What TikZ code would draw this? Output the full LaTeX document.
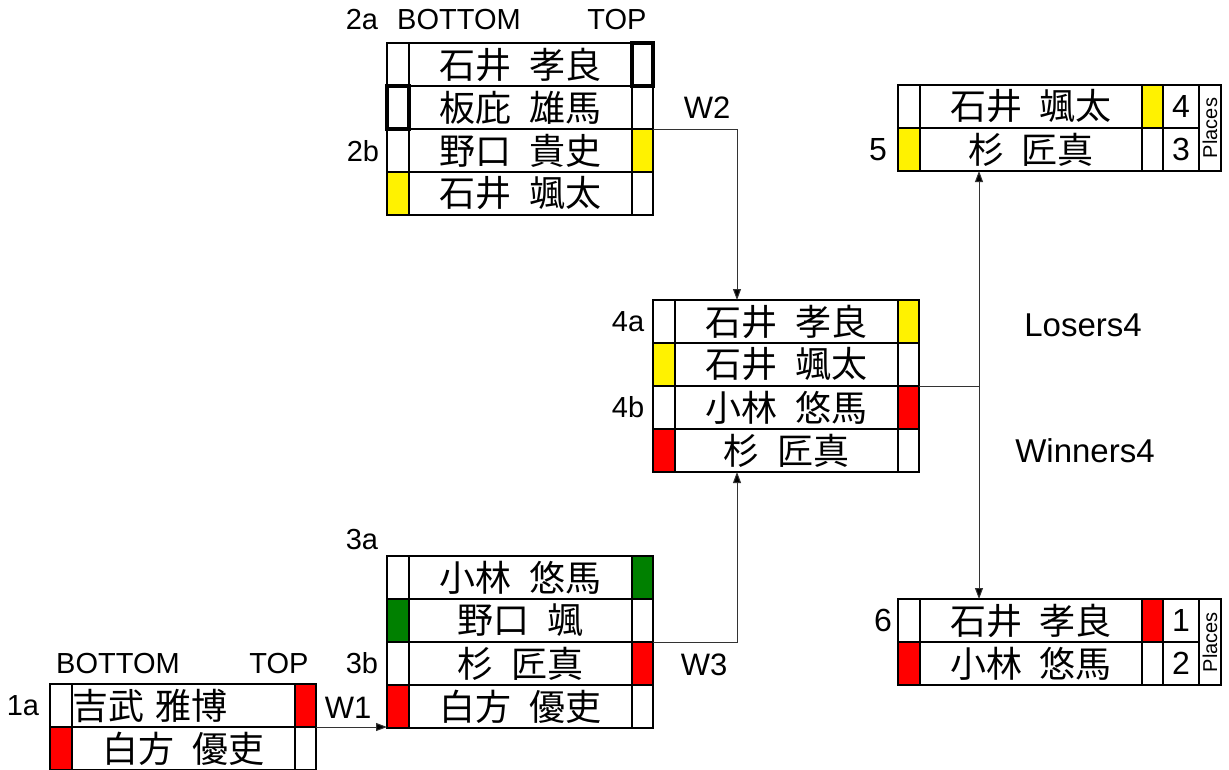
\documentclass[tikz,border=0pt]{standalone}
\usepackage{fontspec}
\setmainfont{Liberation Sans}
\newfontfamily\jpfont[WordSpace=2.2]{Noto Sans CJK JP}
\usetikzlibrary{positioning, arrows.meta}

\begin{document}
\begin{tikzpicture}[x=1pt, y=-1pt,
  cell/.style={draw, line width=1.8pt, inner sep=0pt, outer sep=0pt, minimum height=43pt, anchor=north west},
  side/.style={cell, minimum width=22pt},
  namecell/.style={cell, minimum width=223pt, font=\jpfont\fontsize{36}{36}\selectfont},
  flag/.style={cell, minimum width=21pt},
  numcell/.style={cell, minimum width=36pt, font=\fontsize{32}{32}\selectfont},
  tag/.style={inner sep=0pt, font=\fontsize{29}{29}\selectfont},
  big/.style={inner sep=0pt, font=\fontsize{33}{33}\selectfont},
  cw/.style={fill=white}, cy/.style={fill=yellow}, cr/.style={fill=red}, cg/.style={fill=green!50!black},
  conn/.style={line width=1pt, black!80},
  >={Triangle[length=11pt, width=8pt, fill=black]}
]
\useasboundingbox (0,0) rectangle (1229,769);
\clip (0,0) rectangle (1229,769);

% Match 2
\foreach \row/\who/\lc/\rc in {1/石井 孝良/cw/cw, 2/板庇 雄馬/cw/cw, 3/野口 貴史/cw/cy, 4/石井 颯太/cy/cw}{
  \node[side, \lc] (b2l\row) at (387, {43*\row}) {};
  \node[namecell, right=0pt of b2l\row] (b2n\row) {\who};
  \node[flag, \rc, right=0pt of b2n\row] (b2r\row) {};
}
\draw[line width=4pt] (b2r1.north west) rectangle (b2r1.south east);
\draw[line width=4pt] (b2l2.north west) rectangle (b2l2.south east);
\node[tag] (l2a) at (362,20) {2a};
\node[tag] (l2bot) at (459,20) {BOTTOM};
\node[tag] (l2top) at (617,20) {TOP};
\node[tag] (l2b) at (363,151) {2b};

% Match 4
\foreach \row/\who/\lc/\rc in {1/石井 孝良/cw/cy, 2/石井 颯太/cy/cw, 3/小林 悠馬/cw/cr, 4/杉 匠真/cr/cw}{
  \node[side, \lc] (b4l\row) at (653, {257+43*\row}) {};
  \node[namecell, right=0pt of b4l\row] (b4n\row) {\who};
  \node[flag, \rc, right=0pt of b4n\row] (b4r\row) {};
}
\node[tag] (l4a) at (628,322) {4a};
\node[tag] (l4b) at (628,407) {4b};

% Match 3
\foreach \row/\who/\lc/\rc in {1/小林 悠馬/cw/cg, 2/野口 颯/cg/cw, 3/杉 匠真/cw/cr, 4/白方 優吏/cr/cw}{
  \node[side, \lc] (b3l\row) at (387, {513+43*\row}) {};
  \node[namecell, right=0pt of b3l\row] (b3n\row) {\who};
  \node[flag, \rc, right=0pt of b3n\row] (b3r\row) {};
}
\node[tag] (l3a) at (362,540) {3a};
\node[tag] (l3b) at (362,663) {3b};

% Match 1
\node[side, cw] (b1l1) at (50,684) {};
\node[namecell, text width=223pt, align=left, right=0pt of b1l1] (b1n1) {吉武 雅博};
\node[flag, cr, right=0pt of b1n1] (b1r1) {};
\node[side, cr] (b1l2) at (50,727) {};
\node[namecell, right=0pt of b1l2] (b1n2) {白方 優吏};
\node[flag, cw, right=0pt of b1n2] (b1r2) {};
\node[tag] (l1a) at (23,706) {1a};
\node[tag] (l1bot) at (118,664) {BOTTOM};
\node[tag] (l1top) at (279,664) {TOP};

% Places
\foreach \row/\who/\lc/\rc/\pl in {1/石井 颯太/cw/cy/4, 2/杉 匠真/cy/cw/3}{
  \node[side, \lc] (b5l\row) at (898, {42+43*\row}) {};
  \node[namecell, minimum width=222pt, right=0pt of b5l\row] (b5n\row) {\who};
  \node[flag, \rc, right=0pt of b5n\row] (b5r\row) {};
  \node[numcell, right=0pt of b5r\row] (b5k\row) {\pl};
}
\node[cell, minimum width=22pt, minimum height=86pt] (b5p) at (b5k1.north east) {};
\node[rotate=90, inner sep=0pt, font=\fontsize{20}{20}\selectfont] (b5pl) at (b5p.center) {Places};
\node[tag, font=\fontsize{32}{32}\selectfont] (l5) at (878,150) {5};

\foreach \row/\who/\lc/\rc/\pl in {1/石井 孝良/cw/cr/1, 2/小林 悠馬/cr/cw/2}{
  \node[side, \lc] (b6l\row) at (898, {556+43*\row}) {};
  \node[namecell, minimum width=222pt, right=0pt of b6l\row] (b6n\row) {\who};
  \node[flag, \rc, right=0pt of b6n\row] (b6r\row) {};
  \node[numcell, right=0pt of b6r\row] (b6k\row) {\pl};
}
\node[cell, minimum width=22pt, minimum height=86pt] (b6p) at (b6k1.north east) {};
\node[rotate=90, inner sep=0pt, font=\fontsize{20}{20}\selectfont] (b6pl) at (b6p.center) {Places};
\node[tag, font=\fontsize{32}{32}\selectfont] (l6) at (883,620) {6};

% Winners and losers
\coordinate (in4) at (737,300);
\coordinate (up4) at (737,472);
\coordinate (split) at (979,386);
\draw[conn, ->] (b2r2.south east) -| (in4);
\draw[conn, ->] (b3r2.south east) -| (up4);
\draw[conn, ->] (b1r1.south east) -- (b1r1.south east -| b3l4.west);
\draw[conn] (b4r2.south east) -- (split);
\draw[conn, <->] (b5n2.south -| split) -- (b6n1.north -| split);
\node[big, font=\fontsize{31}{31}\selectfont] (w1) at (348,708) {W1};
\node[big, font=\fontsize{31}{31}\selectfont] (w2) at (707,108) {W2};
\node[big, font=\fontsize{31}{31}\selectfont] (w3) at (704,665) {W3};
\node[big] (los) at (1083,325) {Losers4};
\node[big] (win) at (1085,451) {Winners4};

\end{tikzpicture}
\end{document}
